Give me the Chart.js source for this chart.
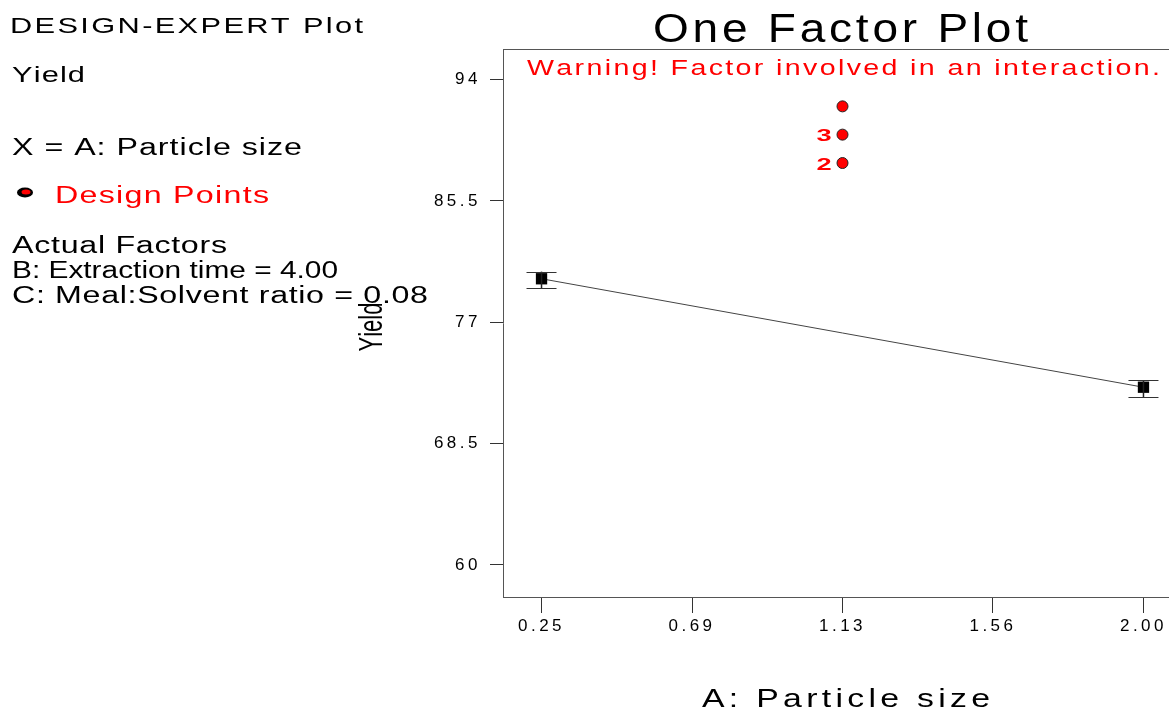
<!DOCTYPE html>
<html>
<head>
<meta charset="utf-8">
<title>One Factor Plot</title>
<script src="https://cdn.jsdelivr.net/npm/chart.js@4.4.1/dist/chart.umd.min.js"></script>
<style>
  html, body { margin: 0; padding: 0; background: #fff; overflow: hidden; }
  #plot { display: block; }
</style>
</head>
<body>
<canvas id="plot" width="1200" height="711"></canvas>
<script>
'use strict';

//DATA
var designX = [1.125, 1.125, 1.125];
var designY = [92.13, 90.15, 88.16];
var designLabels = ['', '3', '2'];

var factorX = [0.25, 2.00];
var factorY = [80.05, 72.45];
var errLow = [79.4, 71.75];
var errHigh = [80.55, 72.95];

var xTickValues = [0.25, 0.6875, 1.125, 1.5625, 2.00];
var xTickLabels = ['0.25', '0.69', '1.13', '1.56', '2.00'];
var yTickValues = [60, 68.5, 77, 85.5, 94];
var yTickLabels = ['60', '68.5', '77', '85.5', '94'];

var FONT = '"Liberation Sans", Arial, sans-serif';

(function () {

   //draws text char by char, widened to the width it has in the picture
   function drawFit(ctx, text, x, y, size, width, color, maxStretch, bold) {
      ctx.save();
      ctx.letterSpacing = '0px';
      ctx.font = (bold ? 'bold ' : '') + size + 'px ' + FONT;
      ctx.fillStyle = color;
      ctx.textAlign = 'left';
      ctx.textBaseline = 'alphabetic';
      var chars = text.split('');
      var natural = 0;
      chars.forEach(function (ch) { natural += ctx.measureText(ch).width; });
      var sx = Math.min(maxStretch || 1.3, width / natural);
      var gap = chars.length > 1 ? (width / sx - natural) / (chars.length - 1) : 0;
      ctx.translate(x, y);
      ctx.scale(sx, 1);
      var cx = 0;
      chars.forEach(function (ch) {
         ctx.fillText(ch, cx, 0);
         cx += ctx.measureText(ch).width + gap;
      });
      ctx.restore();
   }

   //PLUGIN: frame, error bars, texts
   var decor = {
      id: 'decor',
      beforeDraw: function (chart) {
         chart.ctx.letterSpacing = '3.5px'; // tick labels are spaced out in the original
      },
      afterDatasetsDraw: function (chart) {
         var ctx = chart.ctx;
         var xs = chart.scales.x, ys = chart.scales.y;
         ctx.save();
         ctx.letterSpacing = '0px';
         // error bars
         for (var i = 0; i < factorX.length; i++) {
            var px = xs.getPixelForValue(factorX[i]);
            var pLo = ys.getPixelForValue(errLow[i]);
            var pHi = ys.getPixelForValue(errHigh[i]);
            ctx.strokeStyle = '#222';
            ctx.lineWidth = 1.5;
            ctx.beginPath();
            ctx.moveTo(px, pLo); ctx.lineTo(px, pHi);
            ctx.stroke();
            ctx.strokeStyle = '#333';
            ctx.lineWidth = 1;
            ctx.beginPath();
            ctx.moveTo(px - 15, Math.round(pLo) + 0.5); ctx.lineTo(px + 15, Math.round(pLo) + 0.5);
            ctx.moveTo(px - 15, Math.round(pHi) + 0.5); ctx.lineTo(px + 15, Math.round(pHi) + 0.5);
            ctx.stroke();
         }
         ctx.restore();
      },
      afterDraw: function (chart) {
         var ctx = chart.ctx;
         var area = chart.chartArea;
         var xs = chart.scales.x, ys = chart.scales.y;
         ctx.save();
         ctx.letterSpacing = '0px';
         // top line of the frame
         ctx.strokeStyle = '#555';
         ctx.lineWidth = 1;
         ctx.beginPath();
         ctx.moveTo(area.left, area.top + 0.5);
         ctx.lineTo(area.right, area.top + 0.5);
         ctx.lineTo(area.right, area.bottom);
         ctx.stroke();

         // counts next to design points
         for (var i = 0; i < designX.length; i++) {
            if (!designLabels[i]) continue;
            var px = xs.getPixelForValue(designX[i]);
            var py = ys.getPixelForValue(designY[i]);
            drawFit(ctx, designLabels[i], px - 26, py + 6.5, 17, 16, '#ff0000', 1.6, true);
         }

         // title + warning
         drawFit(ctx, 'One Factor Plot', 653, 42, 40, 375, '#000', 1.15);
         drawFit(ctx, 'Warning! Factor involved in an interaction.', 527, 75, 22, 633, '#ff0000', 1.3);

         // axis titles
         drawFit(ctx, 'A: Particle size', 702, 707, 26, 288, '#000', 1.3);
         ctx.save();
         ctx.translate(382, 327);
         ctx.rotate(-Math.PI / 2);
         drawFit(ctx, 'Yield', -24.5, 0, 33, 49, '#000');
         ctx.restore();

         // left info panel
         drawFit(ctx, 'DESIGN-EXPERT Plot', 10, 33, 22, 353, '#000', 1.4);
         drawFit(ctx, 'Yield', 12, 82, 22, 73, '#000', 1.4);
         drawFit(ctx, 'X = A: Particle size', 12, 155, 23, 290, '#000', 1.4);
         ctx.fillStyle = '#000';
         ctx.beginPath();
         ctx.ellipse(25, 192.5, 8, 5, 0, 0, Math.PI * 2);
         ctx.fill();
         ctx.fillStyle = '#ff0000';
         ctx.beginPath();
         ctx.ellipse(26, 192, 4.5, 2.5, 0, 0, Math.PI * 2);
         ctx.fill();
         drawFit(ctx, 'Design Points', 55, 203, 23, 214, '#ff0000', 1.4);
         drawFit(ctx, 'Actual Factors', 12, 253, 23, 215, '#000', 1.4);
         drawFit(ctx, 'B: Extraction time = 4.00', 12, 278, 23, 326, '#000', 1.4);
         drawFit(ctx, 'C: Meal:Solvent ratio = 0.08', 12, 303, 23, 416, '#000', 1.4);
         ctx.restore();
      }
   };

   //CHART
   var config = {
      type: 'scatter',
      data: {
         datasets: [{
            label: 'Design Points',
            data: designX.map(function (x, i) { return { x: x, y: designY[i] }; }),
            pointStyle: 'circle',
            pointRadius: 5.5,
            backgroundColor: '#ff0000',
            borderColor: '#222',
            borderWidth: 1,
            showLine: false
         }, {
            label: 'Yield',
            data: factorX.map(function (x, i) { return { x: x, y: factorY[i] }; }),
            showLine: true,
            borderColor: '#444',
            borderWidth: 1,
            pointStyle: 'rect',
            pointRadius: 8,
            pointBackgroundColor: '#000',
            pointBorderColor: '#000',
            pointBorderWidth: 0
         }]
      },
      options: {
         responsive: false,
         animation: false,
         events: [],
         layout: { padding: { left: 0, top: 49, right: 18, bottom: 0 } },
         plugins: { legend: { display: false }, tooltip: { enabled: false } },
         scales: {
            x: {
               type: 'linear',
               position: 'bottom',
               min: 0.138,
               max: 2.112,
               afterBuildTicks: function (scale) {
                  scale.ticks = xTickValues.map(function (v) { return { value: v }; });
               },
               afterFit: function (scale) { scale.height = 114; },
               ticks: {
                  color: '#000',
                  font: { family: FONT, size: 17 },
                  padding: 3,
                  maxRotation: 0,
                  callback: function (v, i) { return xTickLabels[i]; }
               },
               grid: { drawOnChartArea: false, tickLength: 16, color: '#333' },
               border: { color: '#555', width: 1 }
            },
            y: {
               type: 'linear',
               min: 57.75,
               max: 96.15,
               afterBuildTicks: function (scale) {
                  scale.ticks = yTickValues.map(function (v) { return { value: v }; });
               },
               afterFit: function (scale) { scale.width = 503; },
               ticks: {
                  color: '#000',
                  font: { family: FONT, size: 17 },
                  padding: 9,
                  callback: function (v, i) { return yTickLabels[i]; }
               },
               grid: { drawOnChartArea: false, tickLength: 13, color: '#333' },
               border: { color: '#555', width: 1 }
            }
         }
      },
      plugins: [decor]
   };

   new Chart(document.getElementById('plot'), config);

})();
</script>
</body>
</html>
